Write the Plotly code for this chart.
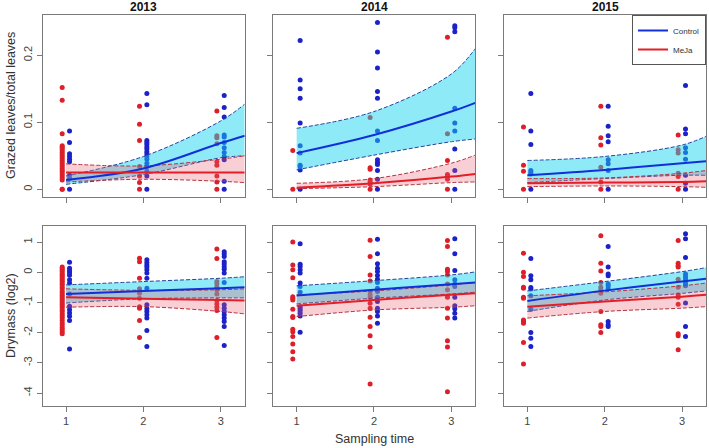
import plotly.graph_objects as go
from plotly.subplots import make_subplots

YEARS = ["2013", "2014", "2015"]
TIMES = [1, 2, 3]
FIT_X = [1, 2, 3, 3.31]

# grazed leaves / total leaves, points per sampling time
graz_2013_meja = [
    [0.152, 0.133, 0.083, 0.065, 0.063, 0.061, 0.058, 0.055, 0.052, 0.049, 0.046, 0.043,
     0.040, 0.037, 0.034, 0.031, 0.028, 0.026, 0.023, 0.020, 0.017, 0.014, 0, 0],
    [0.124, 0.097, 0.073, 0.034, 0.020, 0.010, 0],
    [0.117, 0.080, 0.077, 0.068, 0.041, 0.036, 0.020, 0.011, 0],
]
graz_2013_ctrl = [
    [0.087, 0.070, 0.053, 0.049, 0.045, 0.041, 0.021, 0.016, 0],
    [0.143, 0.126, 0.073, 0.070, 0.067, 0.063, 0.060, 0.056, 0.053, 0.049, 0.045, 0.039,
     0.034, 0.027, 0.020, 0],
    [0.140, 0.122, 0.108, 0.081, 0.078, 0.070, 0.062, 0.055, 0.049, 0.044, 0.012, 0],
]
graz_2014_meja = [
    [0.058, 0],
    [0.107, 0.032, 0.030, 0.014, 0.011, 0.008, 0],
    [0.227, 0.083, 0.043, 0.022, 0.019, 0.015, 0],
]
graz_2014_ctrl = [
    [0.222, 0.163, 0.150, 0.136, 0.099, 0.065, 0.054, 0.036, 0.034, 0.029, 0],
    [0.249, 0.205, 0.181, 0.146, 0.136, 0.087, 0.073, 0.044, 0.040, 0.037, 0.028, 0.015, 0],
    [0.244, 0.241, 0.235, 0.121, 0.099, 0.087, 0.060, 0.028, 0],
]
graz_2015_meja = [
    [0.093, 0.036, 0.027, 0],
    [0.124, 0.077, 0.066, 0.033, 0.011, 0],
    [0.081, 0.059, 0.054, 0.024, 0.019, 0],
]
graz_2015_ctrl = [
    [0.143, 0.087, 0.067, 0.028, 0.025, 0.023, 0],
    [0.124, 0.094, 0.080, 0.071, 0.044, 0.038, 0.028, 0],
    [0.155, 0.090, 0.083, 0.062, 0.055, 0.045, 0.021, 0.009, 0],
]

# drymass (log2), points per sampling time
dry_2013_meja = [
    [0.17, 0.12, 0.07, 0.02, -0.04, -0.09, -0.14, -0.2, -0.26, -0.31, -0.37, -0.42, -0.5,
     -0.56, -0.63, -0.7, -0.76, -0.82, -0.88, -0.94, -1.0, -1.06, -1.12, -1.18, -1.25,
     -1.31, -1.38, -1.45, -1.52, -1.6, -1.68, -1.75, -1.83, -1.9, -1.97, -2.04],
    [0.46, 0.35, -0.2, -0.55, -0.7, -0.86, -1.14, -1.19, -1.6, -2.16],
    [0.77, 0.45, -0.31, -0.39, -0.5, -0.58, -0.72, -0.94, -1.05, -1.16, -1.27, -2.16],
]
dry_2013_ctrl = [
    [0.33, 0.13, 0.05, -0.02, -0.1, -0.25, -0.36, -0.72, -1.13, -1.24, -1.35, -1.46, -1.6, -2.54],
    [0.41, 0.32, 0.24, 0.17, 0.08, -0.03, -0.2, -0.53, -1.08, -1.21, -1.3, -1.41, -1.52,
     -1.93, -2.46],
    [0.68, 0.6, 0.52, 0.35, 0.27, 0.18, 0.1, -0.03, -0.34, -1.08, -1.19, -1.3, -1.41, -1.52,
     -1.63, -1.8, -2.43],
]
dry_2014_meja = [
    [1.0, 0.24, 0.08, -0.18, -0.81, -0.86, -0.92, -1.23, -1.47, -1.5, -1.89, -1.97, -2.13,
     -2.38, -2.63, -2.87],
    [1.06, 0.52, -0.09, -0.29, -0.64, -0.75, -0.83, -1.03, -1.19, -1.49, -1.8, -2.1, -2.48, -3.70],
    [1.05, 0.85, 0.1, 0.02, -0.09, -0.39, -0.58, -0.83, -1.19, -1.52, -2.27, -2.48, -3.96],
]
dry_2014_ctrl = [
    [0.94, 0.26, 0.19, 0.08, -0.03, -0.36, -0.47, -0.66, -1.14, -1.21, -1.28, -1.36, -1.45, -1.99],
    [1.09, 0.61, 0.28, 0.13, 0.02, -0.11, -0.23, -0.34, -0.53, -0.64, -0.83, -0.97, -1.19,
     -1.3, -1.45, -1.69],
    [1.11, 0.61, 0.06, -0.25, -0.39, -0.47, -0.83, -1.11, -1.21, -1.36, -1.52],
]
dry_2015_meja = [
    [0.63, 0.0, -0.14, -0.5, -0.53, -0.83, -0.86, -1.58, -1.63, -1.69, -2.33, -3.04],
    [1.21, 0.3, 0.04, -0.34, -0.5, -0.58, -0.7, -1.3, -1.74, -1.8, -2.0],
    [1.05, 0.3, 0.21, 0.17, -0.23, -0.5, -0.75, -0.83, -1.06, -2.04, -2.1, -2.57],
]
dry_2015_ctrl = [
    [0.45, -0.12, -0.25, -0.51, -0.56, -0.78, -1.23, -2.0, -2.19, -2.46],
    [0.85, 0.17, -0.06, -0.12, -0.39, -0.45, -0.54, -1.63, -1.74, -1.8],
    [1.27, 1.11, 0.49, -0.06, -0.14, -0.22, -0.3, -0.38, -0.45, -1.02, -1.8, -2.13],
]

# model fits at FIT_X: fitted value, lower and upper confidence bound
graz_2013_ctrl_fit = {"fit": [0.014, 0.031, 0.069, 0.080], "lo": [0.0075, 0.022, 0.047, 0.050], "hi": [0.020, 0.049, 0.102, 0.127]}
graz_2013_meja_fit = {"fit": [0.025, 0.025, 0.025, 0.025], "lo": [0.011, 0.015, 0.012, 0.010], "hi": [0.038, 0.035, 0.045, 0.050]}
graz_2014_ctrl_fit = {"fit": [0.054, 0.081, 0.116, 0.129], "lo": [0.029, 0.051, 0.071, 0.075], "hi": [0.091, 0.116, 0.172, 0.210]}
graz_2014_meja_fit = {"fit": [0.0025, 0.009, 0.019, 0.023], "lo": [0.001, 0.004, 0.010, 0.011], "hi": [0.009, 0.016, 0.039, 0.051]}
graz_2015_ctrl_fit = {"fit": [0.021, 0.029, 0.039, 0.042], "lo": [0.010, 0.016, 0.021, 0.021], "hi": [0.043, 0.049, 0.066, 0.079]}
graz_2015_meja_fit = {"fit": [0.009, 0.010, 0.011, 0.012], "lo": [0.004, 0.005, 0.004, 0.003], "hi": [0.016, 0.017, 0.024, 0.028]}
dry_2013_ctrl_fit = {"fit": [-0.72, -0.625, -0.53, -0.50], "lo": [-1.02, -0.88, -0.85, -0.85], "hi": [-0.42, -0.31, -0.20, -0.15]}
dry_2013_meja_fit = {"fit": [-0.83, -0.88, -0.92, -0.94], "lo": [-1.16, -1.14, -1.30, -1.38], "hi": [-0.55, -0.60, -0.58, -0.55]}
dry_2014_ctrl_fit = {"fit": [-0.77, -0.58, -0.40, -0.34], "lo": [-1.05, -0.86, -0.72, -0.66], "hi": [-0.45, -0.28, -0.09, 0.01]}
dry_2014_meja_fit = {"fit": [-1.11, -0.92, -0.75, -0.70], "lo": [-1.47, -1.25, -1.16, -1.11], "hi": [-0.75, -0.62, -0.42, -0.34]}
dry_2015_ctrl_fit = {"fit": [-0.95, -0.61, -0.31, -0.22], "lo": [-1.30, -0.92, -0.70, -0.62], "hi": [-0.62, -0.31, 0.02, 0.15]}
dry_2015_meja_fit = {"fit": [-1.14, -0.97, -0.81, -0.75], "lo": [-1.52, -1.30, -1.19, -1.14], "hi": [-0.78, -0.65, -0.45, -0.36]}

PANELS = [
    (1, 1, graz_2013_ctrl, graz_2013_meja, graz_2013_ctrl_fit, graz_2013_meja_fit),
    (1, 2, graz_2014_ctrl, graz_2014_meja, graz_2014_ctrl_fit, graz_2014_meja_fit),
    (1, 3, graz_2015_ctrl, graz_2015_meja, graz_2015_ctrl_fit, graz_2015_meja_fit),
    (2, 1, dry_2013_ctrl, dry_2013_meja, dry_2013_ctrl_fit, dry_2013_meja_fit),
    (2, 2, dry_2014_ctrl, dry_2014_meja, dry_2014_ctrl_fit, dry_2014_meja_fit),
    (2, 3, dry_2015_ctrl, dry_2015_meja, dry_2015_ctrl_fit, dry_2015_meja_fit),
]

STYLE = {
    "ctrl": {"dot": "#1b22c8", "line": "#1230d8", "edge": "#28409a",
             "fill": "rgba(20,212,240,0.48)", "offset": 0.045, "name": "Control"},
    "meja": {"dot": "#dc1f2a", "line": "#e41e26", "edge": "#b8303c",
             "fill": "rgba(232,95,115,0.30)", "offset": -0.05, "name": "MeJa"},
}
FONT = "Liberation Sans, Arial, sans-serif"

fig = make_subplots(rows=2, cols=3)

for row, col, ctrl_pts, meja_pts, ctrl_fit, meja_fit in PANELS:
    groups = (("ctrl", ctrl_pts, ctrl_fit), ("meja", meja_pts, meja_fit))
    # points underneath the bands
    for key, pts, _ in groups:
        st = STYLE[key]
        xs, ys = [], []
        for t, vals in zip(TIMES, pts):
            xs += [t + st["offset"]] * len(vals)
            ys += vals
        fig.add_trace(go.Scatter(
            x=xs, y=ys, mode="markers", showlegend=False, hoverinfo="skip",
            marker={"size": 5, "color": st["dot"], "line": {"width": 0}},
        ), row=row, col=col)
    # confidence bands
    for key, _, fit in groups:
        st = STYLE[key]
        fig.add_trace(go.Scatter(
            x=FIT_X, y=fit["lo"], mode="lines", showlegend=False, hoverinfo="skip",
            line={"color": st["edge"], "width": 1, "dash": "4px,2px", "shape": "spline"},
        ), row=row, col=col)
        fig.add_trace(go.Scatter(
            x=FIT_X, y=fit["hi"], mode="lines", showlegend=False, hoverinfo="skip",
            fill="tonexty", fillcolor=st["fill"],
            line={"color": st["edge"], "width": 1, "dash": "4px,2px", "shape": "spline"},
        ), row=row, col=col)
    # fitted lines on top
    for key, _, fit in groups:
        st = STYLE[key]
        fig.add_trace(go.Scatter(
            x=FIT_X, y=fit["fit"], mode="lines", name=st["name"],
            showlegend=(row == 1 and col == 1), hoverinfo="skip",
            line={"color": st["line"], "width": 2, "shape": "spline"},
        ), row=row, col=col)

W, H = 709, 448
x_dom = [(42.7, 244.7), (273.3, 475.3), (504.0, 706.0)]
y_dom = [(15.0, 196.7), (225.7, 406.0)]

axis_common = dict(
    showgrid=False, zeroline=False, showline=True, mirror=True, automargin=False,
    linecolor="#7a7a7a", linewidth=1, ticks="outside", ticklen=5,
    tickcolor="#7a7a7a", tickfont={"size": 11, "color": "#444", "family": FONT},
)
for r in range(2):
    for c in range(3):
        n = r * 3 + c + 1
        sfx = "" if n == 1 else str(n)
        fig.layout["xaxis" + sfx].update(
            domain=[x_dom[c][0] / W, x_dom[c][1] / W], range=[0.698, 3.31],
            tickvals=TIMES, showticklabels=(r == 1), **axis_common)
        if r == 0:
            yr, tv, tt = [-0.011, 0.260], [0, 0.1, 0.2], ["0", "0.1", "0.2"]
        else:
            yr, tv, tt = [-4.43, 1.54], [-4, -3, -2, -1, 0, 1], ["-4", "-3", "-2", "-1", "0", "1"]
        fig.layout["yaxis" + sfx].update(
            domain=[1 - y_dom[r][1] / H, 1 - y_dom[r][0] / H], range=yr,
            tickvals=tv, ticktext=tt, tickangle=-90, showticklabels=(c == 0),
            **axis_common)

annotations = []
for c, year in enumerate(YEARS):
    annotations.append(dict(
        text="<b>%s</b>" % year, x=(x_dom[c][0] + x_dom[c][1]) / 2 / W, y=1 - 7 / H,
        xref="paper", yref="paper", showarrow=False, xanchor="center", yanchor="middle",
        font={"size": 12, "color": "#111", "family": FONT},
    ))
annotations += [
    dict(text="Grazed leaves/total leaves", x=11 / W, y=1 - 106 / H, textangle=-90,
         xref="paper", yref="paper", showarrow=False, xanchor="center", yanchor="middle",
         font={"size": 12.5, "color": "#333", "family": FONT}),
    dict(text="Drymass (log2)", x=11 / W, y=1 - 316 / H, textangle=-90,
         xref="paper", yref="paper", showarrow=False, xanchor="center", yanchor="middle",
         font={"size": 12.5, "color": "#333", "family": FONT}),
    dict(text="Sampling time", x=374.3 / W, y=1 - 439 / H,
         xref="paper", yref="paper", showarrow=False, xanchor="center", yanchor="middle",
         font={"size": 12.5, "color": "#333", "family": FONT}),
]

fig.update_layout(
    width=W, height=H, margin={"l": 0, "r": 0, "t": 0, "b": 0},
    plot_bgcolor="white", paper_bgcolor="white",
    font={"family": FONT},
    annotations=annotations,
    legend=dict(
        x=706 / W, xanchor="right", y=1 - 15 / H, yanchor="top",
        bgcolor="white", bordercolor="#555", borderwidth=1, traceorder="normal",
        font={"size": 8, "color": "#333"}, itemwidth=30, tracegroupgap=0,
    ),
)

# the page body has a default 8px margin; drop it so the figure sits at the corner
fig.write_html(
    "out.html",
    config={"displayModeBar": False},
    post_script="document.body.style.margin = '0px';",
)
